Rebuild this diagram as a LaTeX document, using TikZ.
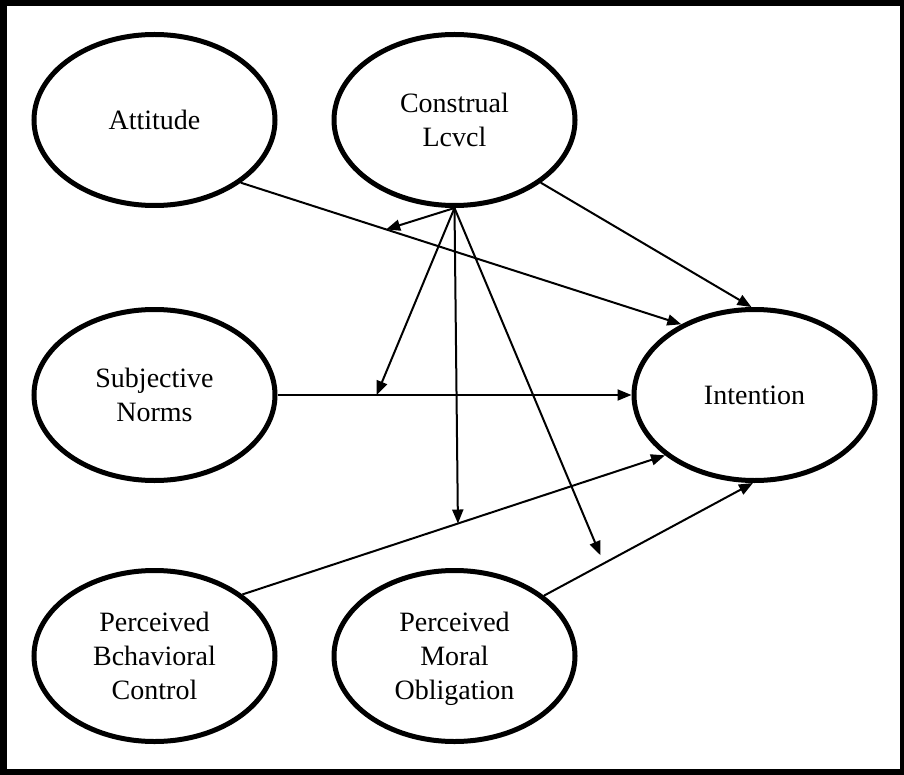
\documentclass[tikz,border=0pt]{standalone}
\usepackage{fontspec}
\setmainfont{Liberation Serif}
\usetikzlibrary{shapes,arrows.meta,positioning}
\tikzstyle{latent} = [ellipse, draw, line width=2.5pt, minimum width=120.5pt, minimum height=85.5pt, align=center, font=\fontsize{14}{17}\selectfont]
\tikzstyle{line} = [draw, line width=1pt, -{Triangle[length=7pt,width=5.5pt]}]

\begin{document}
\begin{tikzpicture}[x=0.5pt, y=-0.5pt, node distance=137.5pt and 150pt, on grid, auto]
    \useasboundingbox (0,0) rectangle (904,775);
    \draw [line width=3pt] (3.5,3.5) rectangle (903,772);

    \node [latent] (att) at (154.5,120) {Attitude};
    \node [latent, right=of att] (cons) {Construal\\Lcvcl};
    \node [latent, below=of att] (sn) {Subjective\\Norms};
    \node [latent, right=300pt of sn] (int) {Intention};
    \node [latent, below=130.5pt of sn] (pbc) {Perceived\\Bchavioral\\Control};
    \node [latent, right=of pbc, text depth=0pt] (pmo) {Perceived\\Moral\\Obligation};

    % direct paths
    \path [line] (att.-36) -- coordinate[pos=0.33] (m1) (int.136);
    \path [line] (cons.-36) -- (int.92);
    \path [line] (sn.east) -- coordinate[pos=0.28] (m2) (int.west);
    \path [line] (pbc.35) -- coordinate[pos=0.51] (m3) (int.-146);
    \path [line] (pmo.34) -- coordinate[pos=0.27, yshift=5pt] (m4) (int.-91);

    % moderation by construal level
    \path [line] (cons.south) -- (m1);
    \path [line] (cons.south) -- (m2);
    \path [line] (cons.south) -- (m3);
    \path [line] (cons.south) -- (m4);
\end{tikzpicture}
\end{document}
